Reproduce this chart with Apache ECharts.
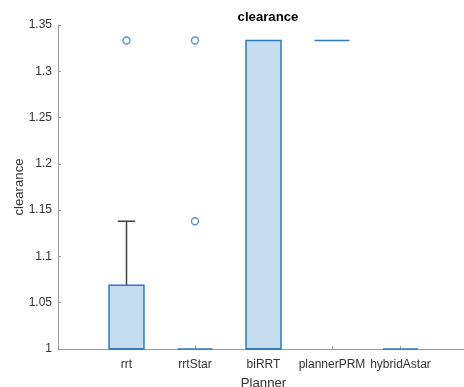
<!DOCTYPE html>
<html><head><meta charset="utf-8">
<script src="https://cdn.jsdelivr.net/npm/echarts@6/dist/echarts.min.js"></script>
<style>html,body{margin:0;padding:0;background:#fff}#c{width:464px;height:387px}</style>
</head><body><div id="c"></div>
<script>
const categories = ['rrt', 'rrtStar', 'biRRT', 'plannerPRM', 'hybridAstar'];
const whiskerLow = [1, 1, 1, 1.3333, 1];
const q1 = [1, 1, 1, 1.3333, 1];
const medians = [1, 1, 1, 1.3333, 1];
const q3 = [1.069, 1, 1.3333, 1.3333, 1];
const whiskerHigh = [1.138, 1, 1.3333, 1.3333, 1];
const outlierCat = [1, 2, 2];
const outlierVal = [1.3333, 1.138, 1.3333];
const yTicks = [1, 1.05, 1.1, 1.15, 1.2, 1.25, 1.3, 1.35];

const boxData = categories.map((c, i) => [i + 1, whiskerLow[i], q1[i], medians[i], q3[i], whiskerHigh[i]]);
const outlierData = outlierCat.map((c, i) => [c, outlierVal[i]]);

const BLUE = '#2d7bbd';
const FILL = '#c6dcef';
const WH = '#404040';

const chart = echarts.init(document.getElementById('c'));
chart.setOption({
  animation: false,
  title: {
    text: 'clearance', left: 263, top: 6, textAlign: 'center',
    textStyle: {fontFamily: 'Liberation Sans', fontSize: 13.2, fontWeight: 'bold', color: '#000'}
  },
  grid: {left: 58, top: 25, bottom: 38, width: 411, containLabel: false, outerBoundsMode: 'none'},
  xAxis: {
    type: 'value', min: 0, max: 6, interval: 1,
    name: 'Planner', nameLocation: 'middle', nameGap: 28, nameMoveOverlap: false,
    nameTextStyle: {fontFamily: 'Liberation Sans', fontSize: 13.2, color: '#333'},
    axisLine: {lineStyle: {color: '#9a9a9a', width: 1}},
    axisTick: {inside: true, length: 3, lineStyle: {color: '#9a9a9a'}},
    splitLine: {show: false},
    axisLabel: {
      fontFamily: 'Liberation Sans', fontSize: 12, color: '#333', margin: 10,
      formatter: v => (v >= 1 && v <= 5) ? categories[v - 1] : ''
    }
  },
  yAxis: {
    type: 'value', min: 1, max: 1.35, interval: 0.05,
    name: 'clearance', nameLocation: 'middle', nameGap: 32, nameMoveOverlap: false,
    nameTextStyle: {fontFamily: 'Liberation Sans', fontSize: 13.2, color: '#333'},
    axisLine: {show: true, lineStyle: {color: '#9a9a9a', width: 1}},
    axisTick: {show: true, inside: true, length: 3, lineStyle: {color: '#9a9a9a'}},
    splitLine: {show: false},
    axisLabel: {
      fontFamily: 'Liberation Sans', fontSize: 12, color: '#333', margin: 6,
      formatter: v => { const t = yTicks.find(x => Math.abs(x - v) < 1e-9); return t === undefined ? '' : String(t); }
    }
  },
  series: [{
    type: 'custom',
    data: boxData,
    encode: {x: 0, y: [1, 2, 3, 4, 5]},
    renderItem: function (params, api) {
      const x = api.value(0);
      const half = api.size([1, 0])[0] * 0.255;
      const capHalf = half * 0.5;
      const pLow = api.coord([x, api.value(1)]);
      const pQ1 = api.coord([x, api.value(2)]);
      const pMed = api.coord([x, api.value(3)]);
      const pQ3 = api.coord([x, api.value(4)]);
      const pHigh = api.coord([x, api.value(5)]);
      const cx = pQ1[0];
      const children = [];
      if (api.value(5) > api.value(4)) {
        children.push({type: 'line', shape: {x1: cx, y1: pQ3[1], x2: cx, y2: pHigh[1]}, style: {stroke: WH, lineWidth: 1.5}});
        children.push({type: 'line', shape: {x1: cx - capHalf, y1: pHigh[1], x2: cx + capHalf, y2: pHigh[1]}, style: {stroke: WH, lineWidth: 1.5}});
      }
      if (api.value(1) < api.value(2)) {
        children.push({type: 'line', shape: {x1: cx, y1: pQ1[1], x2: cx, y2: pLow[1]}, style: {stroke: WH, lineWidth: 1.5}});
        children.push({type: 'line', shape: {x1: cx - capHalf, y1: pLow[1], x2: cx + capHalf, y2: pLow[1]}, style: {stroke: WH, lineWidth: 1.5}});
      }
      const h = pQ1[1] - pQ3[1];
      if (h > 0.5) {
        children.push({type: 'rect', shape: {x: cx - half, y: pQ3[1], width: 2 * half, height: h}, style: {fill: FILL, stroke: BLUE, lineWidth: 1.5}});
      }
      children.push({type: 'line', shape: {x1: cx - half, y1: pMed[1], x2: cx + half, y2: pMed[1]}, style: {stroke: BLUE, lineWidth: 1.5}});
      return {type: 'group', children: children};
    },
    z: 2
  }, {
    type: 'scatter',
    data: outlierData,
    symbol: 'circle', symbolSize: 7,
    itemStyle: {color: '#fff', borderColor: BLUE, borderWidth: 1.4},
    z: 3
  }]
});
</script></body></html>
